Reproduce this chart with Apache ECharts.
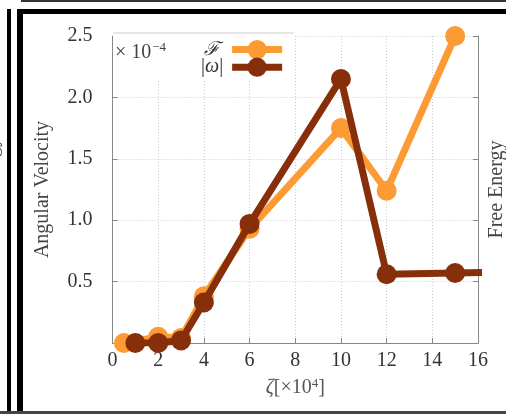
<!DOCTYPE html>
<html>
<head>
<meta charset="utf-8">
<script src="https://cdn.jsdelivr.net/npm/echarts@6/dist/echarts.min.js"></script>
<style>
  html, body { margin: 0; padding: 0; background: #fff; }
  #chart { width: 506px; height: 414px; }
</style>
</head>
<body>
<div id="chart"></div>
<script>
// ζ values (×10^4) and the two measured curves (×10^-4)
const zetaF = [0.5, 2, 3, 4, 6, 10, 12, 15];
const freeEnergy = [0.0, 0.05, 0.04, 0.38, 0.93, 1.75, 1.24, 2.5];
const zetaW = [1, 2, 3, 4, 6, 10, 12, 15, 18];
const angVel = [0.0, 0.0, 0.02, 0.33, 0.97, 2.15, 0.56, 0.57, 0.58];
const xTicks = [0, 2, 4, 6, 8, 10, 12, 14, 16];
const yTicks = [0.5, 1.0, 1.5, 2.0, 2.5];

const ORANGE = '#FC9A34';
const BROWN = '#862F0A';
const SERIF = '"Liberation Serif", "DejaVu Serif", serif';

function pairs(xs, ys) { return xs.map((x, i) => [x, ys[i]]); }

const chart = echarts.init(document.getElementById('chart'), null, { renderer: 'canvas' });

chart.setOption({
  animation: false,
  backgroundColor: '#fff',
  textStyle: { fontFamily: SERIF },
  grid: { left: 112.5, right: 28, top: 36, bottom: 71, containLabel: false, outerBoundsMode: 'none' },
  xAxis: {
    type: 'value',
    min: xTicks[0], max: xTicks[xTicks.length - 1], interval: 2,
    name: '{z|ζ}[×10{s|4}]',
    nameLocation: 'middle', nameGap: 34, nameMoveOverlap: false,
    nameTextStyle: {
      fontFamily: SERIF, fontSize: 20, color: '#555',
      rich: {
        z: { fontFamily: SERIF, fontStyle: 'italic', fontSize: 20, color: '#555' },
        s: { fontFamily: SERIF, fontSize: 13, color: '#555', verticalAlign: 'top', padding: [0, 0, 9, 0] }
      }
    },
    axisLine: { show: true, lineStyle: { color: '#888', width: 1 } },
    axisTick: { show: true, inside: true, length: 5, lineStyle: { color: '#888' } },
    axisLabel: { fontFamily: SERIF, fontSize: 20, color: '#333', margin: 8 },
    splitLine: { show: true, lineStyle: { color: '#ccc', type: [1, 2], width: 1 } }
  },
  yAxis: [{
    type: 'value',
    min: 0, max: 2.5, interval: 0.5,
    name: 'Angular Velocity',
    nameLocation: 'middle', nameGap: 60, nameRotate: 90, nameMoveOverlap: false,
    nameTextStyle: { fontFamily: SERIF, fontSize: 20, color: '#444' },
    axisLine: { show: true, lineStyle: { color: '#888', width: 1 } },
    axisTick: { show: true, inside: true, length: 5, lineStyle: { color: '#888' } },
    axisLabel: {
      fontFamily: SERIF, fontSize: 20, color: '#333', margin: 20,
      formatter: v => (yTicks.indexOf(+v.toFixed(1)) >= 0 ? v.toFixed(1) : '')
    },
    splitLine: { show: true, lineStyle: { color: '#ccc', type: [1, 2], width: 1 } }
  }, {
    type: 'value',
    position: 'right',
    min: 0, max: 2.5, interval: 0.5,
    name: 'Free Energy',
    nameLocation: 'middle', nameGap: 9, nameRotate: 90, nameMoveOverlap: false,
    nameTextStyle: { fontFamily: SERIF, fontSize: 20, color: '#444' },
    axisLine: { show: true, lineStyle: { color: '#888', width: 1 } },
    axisTick: { show: true, inside: true, length: 5, lineStyle: { color: '#888' } },
    axisLabel: { show: false },
    splitLine: { show: false }
  }],
  legend: {
    orient: 'vertical',
    left: 196, top: 35,
    align: 'right',
    itemWidth: 50, itemHeight: 24, itemGap: -2,
    lineStyle: { width: 7 },
    data: ['F', 'W'],
    formatter: name => name === 'F' ? '{f|ℱ}' : '|{w|ω}|',
    textStyle: {
      fontFamily: SERIF, fontSize: 20, color: '#333', padding: [0, 4, 0, 0],
      rich: {
        f: { fontFamily: '"DejaVu Serif", serif', fontStyle: 'italic', fontSize: 19, color: '#333', padding: [0, 3, 0, 0] },
        w: { fontFamily: SERIF, fontStyle: 'italic', fontSize: 20, color: '#333' }
      }
    }
  },
  graphic: [
    // white backdrop behind the legend and scale note
    { type: 'rect', z: 1, shape: { x: 113, y: 33, width: 181, height: 46 }, style: { fill: '#fff' } },
    { type: 'line', z: 1, shape: { x1: 113, y1: 33, x2: 294, y2: 33 }, style: { stroke: '#ccc', lineWidth: 1 } },
    {
      type: 'text', z: 3, left: 115, top: 41,
      style: {
        text: '× 10{s|−4}',
        fontFamily: SERIF, fontSize: 20, fill: '#444',
        rich: { s: { fontFamily: SERIF, fontSize: 13, fill: '#444', verticalAlign: 'top', padding: [0, 0, 10, 1] } }
      }
    },
    // panel frames
    { type: 'rect', z: 10, shape: { x: 7, y: 9, width: 4, height: 405 }, style: { fill: '#000' } },
    { type: 'rect', z: 10, shape: { x: 17, y: 9, width: 6, height: 405 }, style: { fill: '#000' } },
    { type: 'rect', z: 10, shape: { x: 17, y: 9, width: 489, height: 5 }, style: { fill: '#000' } },
    { type: 'rect', z: 10, shape: { x: 21, y: 0, width: 485, height: 2 }, style: { fill: '#333' } },
    { type: 'rect', z: 10, shape: { x: 0, y: 411, width: 506, height: 3 }, style: { fill: '#444' } },
    // title of the neighbouring panel, cut at the edge
    {
      type: 'text', z: 3, x: 2, y: 186, rotation: Math.PI / 2,
      style: { text: 'Free Energy', fontFamily: SERIF, fontSize: 20, fill: '#444', align: 'center', verticalAlign: 'bottom' }
    }
  ],
  series: [{
    name: 'F', type: 'line', z: 5,
    data: pairs(zetaF, freeEnergy),
    symbol: 'circle', symbolSize: 20,
    itemStyle: { color: ORANGE },
    lineStyle: { color: ORANGE, width: 7 },
    clip: true
  }, {
    name: 'W', type: 'line', z: 6,
    data: pairs(zetaW, angVel),
    symbol: 'circle', symbolSize: 20,
    itemStyle: { color: BROWN },
    lineStyle: { color: BROWN, width: 7 },
    clip: true
  }]
});
</script>
</body>
</html>
